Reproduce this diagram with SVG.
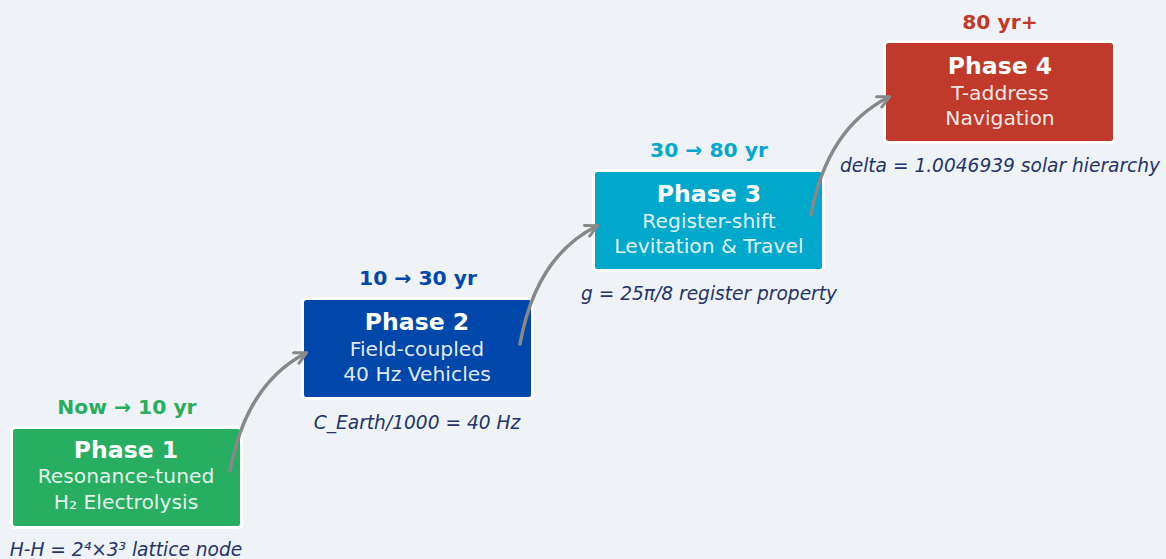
<svg xmlns="http://www.w3.org/2000/svg" width="1166" height="559" viewBox="0 0 1166 559">
<defs>
<style>
.box{stroke:#ffffff;stroke-width:3}
.ttl{font-family:"DejaVu Sans",sans-serif;font-weight:bold;font-size:23.5px;fill:#ffffff;text-anchor:middle}
.sub{font-family:"DejaVu Sans",sans-serif;font-size:20.3px;fill:#ffffff;fill-opacity:0.9;text-anchor:middle}
.time{font-family:"DejaVu Sans",sans-serif;font-weight:bold;font-size:20.3px;text-anchor:middle}
.note{font-family:"DejaVu Sans",sans-serif;font-style:italic;font-size:18.6px;fill:#23346a;text-anchor:middle}
.arr{fill:none;stroke:#888888;stroke-width:3.5;stroke-linecap:round}
</style>
<marker id="ah" viewBox="0 0 10 10" refX="8.5" refY="5" markerWidth="4.2" markerHeight="4.2" orient="auto" markerUnits="strokeWidth">
<path d="M1,1 L9,5 L1,9" fill="none" stroke="#888888" stroke-width="2" stroke-linecap="round" stroke-linejoin="round"/>
</marker>
</defs>
<rect width="1166" height="559" fill="#eff2f7"/>
<g id="phase1">
<text class="time" x="127" y="414" fill="#27ae60">Now → 10 yr</text>
<rect class="box" x="11.5" y="427.5" width="230" height="100" rx="4" fill="#27ae60"/>
<text class="ttl" x="126" y="458">Phase 1</text>
<text class="sub" x="126" y="483">Resonance-tuned</text>
<text class="sub" x="126" y="509">H₂ Electrolysis</text>
<text class="note" x="126" y="556">H-H = 2⁴×3³ lattice node</text>
</g>
<g id="phase2">
<text class="time" x="418" y="285" fill="#0047ab">10 → 30 yr</text>
<rect class="box" x="302.5" y="298.5" width="230" height="100" rx="4" fill="#0047ab"/>
<text class="ttl" x="417" y="330">Phase 2</text>
<text class="sub" x="417" y="356">Field-coupled</text>
<text class="sub" x="417" y="381">40 Hz Vehicles</text>
<text class="note" x="417" y="429">C_Earth/1000 = 40 Hz</text>
</g>
<g id="phase3">
<text class="time" x="709" y="157" fill="#00a8cc">30 → 80 yr</text>
<rect class="box" x="593.5" y="170.5" width="230" height="100" rx="4" fill="#00a8cc"/>
<text class="ttl" x="709" y="202">Phase 3</text>
<text class="sub" x="709" y="228">Register-shift</text>
<text class="sub" x="709" y="253">Levitation &amp; Travel</text>
<text class="note" x="709" y="300">g = 25π/8 register property</text>
</g>
<g id="phase4">
<text class="time" x="1000" y="29" fill="#c0392b">80 yr+</text>
<rect class="box" x="884.5" y="41.5" width="230" height="101" rx="4" fill="#c0392b"/>
<text class="ttl" x="1000" y="74">Phase 4</text>
<text class="sub" x="1000" y="100">T-address</text>
<text class="sub" x="1000" y="125">Navigation</text>
<text class="note" x="1000" y="172">delta = 1.0046939 solar hierarchy</text>
</g>
<g id="connectors">
<path class="arr" d="M230,471 Q246,384 306,353" marker-end="url(#ah)"/>
<path class="arr" d="M520,344 Q536,256 597,226" marker-end="url(#ah)"/>
<path class="arr" d="M811,215 Q827,128 889,97" marker-end="url(#ah)"/>
</g>
</svg>
